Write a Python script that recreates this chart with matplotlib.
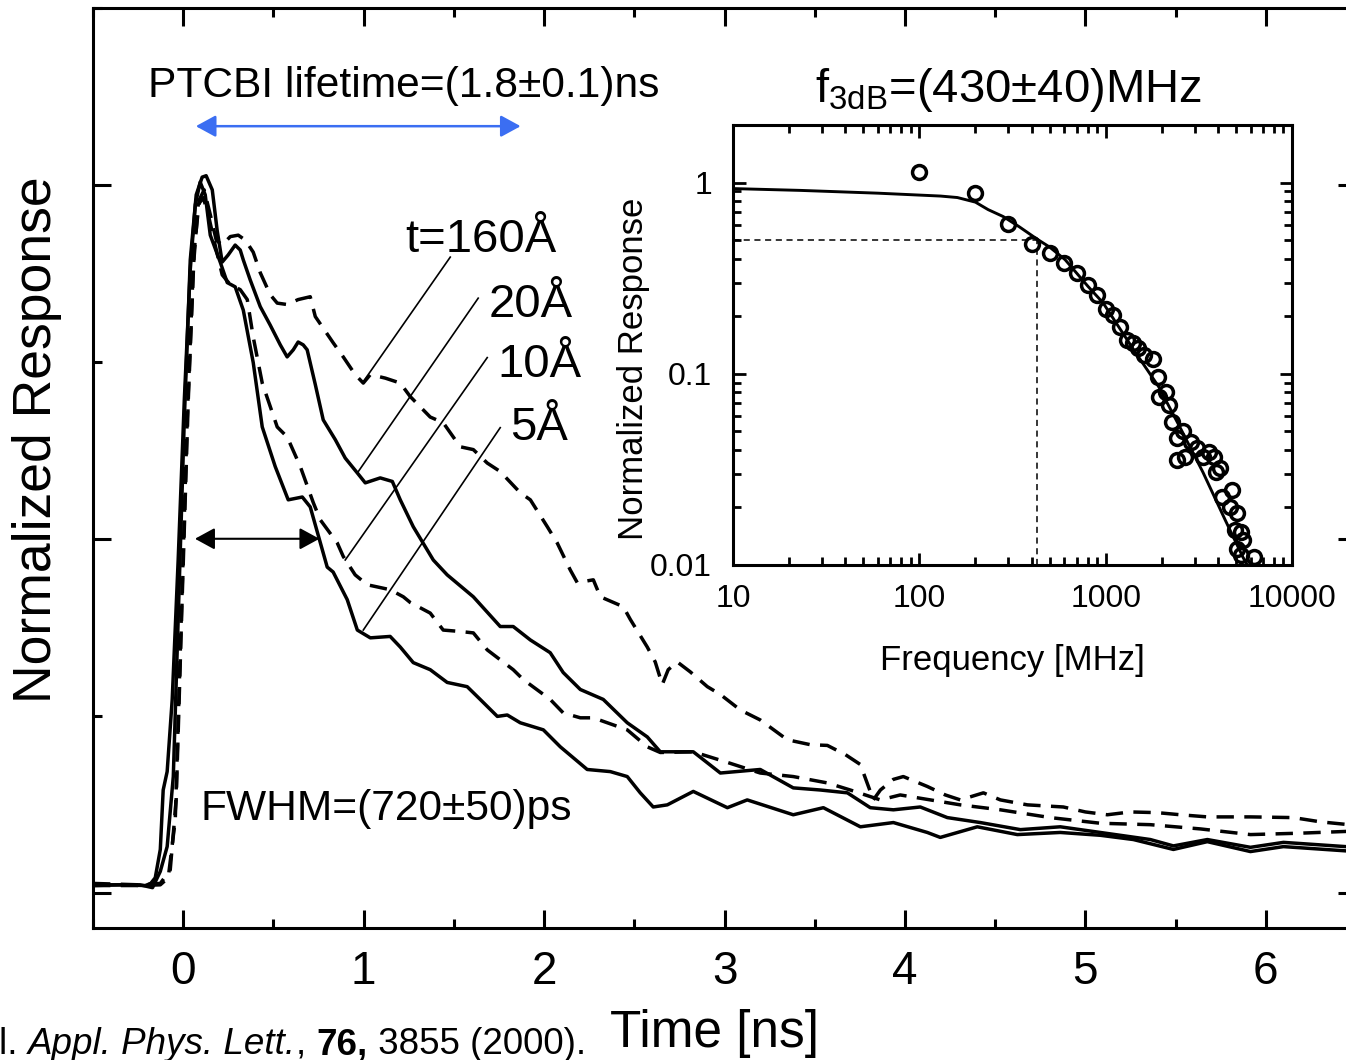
import numpy as np
import matplotlib
matplotlib.use("Agg")
import matplotlib.pyplot as plt
from matplotlib.ticker import MultipleLocator, LogLocator, NullFormatter, FixedLocator, FixedFormatter

plt.rcParams['font.family'] = ['Liberation Sans', 'DejaVu Sans']
plt.rcParams['mathtext.fontset'] = 'custom'
plt.rcParams['mathtext.rm'] = 'Liberation Sans'
plt.rcParams['mathtext.it'] = 'Liberation Sans:italic'
plt.rcParams['mathtext.bf'] = 'Liberation Sans:bold'

# ---- transient response (time in ns, response normalised) ----
t_5A = [-0.50, -0.35, -0.21, -0.18, -0.155, -0.127, -0.111, -0.089, -0.061, -0.028, 0.006, 0.039, 0.067,
        0.094, 0.122, 0.150, 0.205, 0.244, 0.288, 0.333, 0.388, 0.438, 0.510, 0.582, 0.660, 0.704, 0.798,
        0.831, 0.909, 0.965, 1.037, 1.147, 1.203, 1.275, 1.369, 1.463, 1.574, 1.646, 1.741, 1.796, 1.868,
        1.996, 2.090, 2.239, 2.367, 2.461, 2.533, 2.605, 2.683, 2.827, 3.016, 3.126, 3.381, 3.548, 3.753,
        3.936, 4.124, 4.196, 4.401, 4.623, 4.861, 5.083, 5.266, 5.488, 5.676, 5.915, 6.098, 6.50]
r_5A = [0.010, 0.011, 0.010, 0.013, 0.021, 0.061, 0.145, 0.171, 0.273, 0.470, 0.696, 0.880, 0.972,
        1.004, 0.986, 0.929, 0.891, 0.862, 0.856, 0.823, 0.749, 0.658, 0.602, 0.555, 0.559, 0.545, 0.460,
        0.453, 0.414, 0.371, 0.360, 0.362, 0.347, 0.325, 0.315, 0.297, 0.291, 0.273, 0.249, 0.251, 0.240,
        0.230, 0.206, 0.174, 0.171, 0.164, 0.141, 0.121, 0.124, 0.143, 0.120, 0.131, 0.110, 0.120, 0.093,
        0.099, 0.085, 0.078, 0.093, 0.082, 0.085, 0.081, 0.075, 0.061, 0.072, 0.058, 0.065, 0.058]

t_20A = [-0.50, -0.24, -0.17, -0.127, -0.089, -0.055, -0.028, 0.006, 0.039, 0.072, 0.105, 0.127, 0.161,
         0.188, 0.216, 0.249, 0.288, 0.316, 0.333, 0.371, 0.427, 0.482, 0.538, 0.576, 0.610, 0.637, 0.665,
         0.687, 0.732, 0.776, 0.843, 0.898, 0.965, 1.009, 1.092, 1.159, 1.203, 1.275, 1.386, 1.463, 1.608,
         1.757, 1.829, 1.924, 2.034, 2.106, 2.201, 2.328, 2.461, 2.572, 2.644, 2.827, 2.977, 3.198, 3.381,
         3.531, 3.681, 3.808, 3.936, 4.085, 4.235, 4.418, 4.640, 4.861, 5.083, 5.360, 5.488, 5.676, 5.915,
         6.098, 6.50]
r_20A = [0.011, 0.011, 0.007, 0.030, 0.065, 0.164, 0.386, 0.668, 0.894, 0.986, 1.011, 1.013, 0.993,
         0.936, 0.891, 0.901, 0.915, 0.908, 0.894, 0.866, 0.828, 0.802, 0.774, 0.757, 0.767, 0.778, 0.774,
         0.767, 0.718, 0.668, 0.640, 0.614, 0.593, 0.579, 0.586, 0.581, 0.555, 0.517, 0.470, 0.449, 0.418,
         0.376, 0.376, 0.357, 0.339, 0.311, 0.287, 0.273, 0.240, 0.220, 0.199, 0.199, 0.169, 0.174, 0.148,
         0.145, 0.141, 0.120, 0.117, 0.121, 0.106, 0.099, 0.089, 0.093, 0.085, 0.075, 0.066, 0.075, 0.064,
         0.071, 0.064]

t_10A = [-0.50, -0.24, -0.127, -0.083, -0.044, -0.011, 0.022, 0.055, 0.083, 0.111, 0.139, 0.177, 0.216,
         0.261, 0.316, 0.355, 0.388, 0.438, 0.521, 0.576, 0.649, 0.721, 0.759, 0.854, 0.887, 0.953, 1.020,
         1.075, 1.147, 1.220, 1.258, 1.369, 1.441, 1.535, 1.608, 1.685, 1.757, 1.829, 1.885, 2.034, 2.106,
         2.201, 2.273, 2.461, 2.572, 2.644, 2.827, 3.016, 3.198, 3.381, 3.570, 3.697, 3.864, 3.974, 4.141,
         4.307, 4.529, 4.806, 5.083, 5.360, 5.638, 5.915, 6.192, 6.50]
r_10A = [0.010, 0.010, 0.011, 0.021, 0.103, 0.386, 0.668, 0.880, 0.972, 0.982, 0.958, 0.915, 0.873,
         0.859, 0.852, 0.838, 0.785, 0.720, 0.658, 0.644, 0.602, 0.551, 0.527, 0.494, 0.475, 0.449, 0.435,
         0.432, 0.428, 0.418, 0.410, 0.395, 0.371, 0.369, 0.367, 0.343, 0.329, 0.315, 0.301, 0.273, 0.254,
         0.247, 0.247, 0.230, 0.206, 0.198, 0.199, 0.184, 0.169, 0.164, 0.155, 0.145, 0.131, 0.138, 0.131,
         0.124, 0.117, 0.106, 0.098, 0.096, 0.090, 0.082, 0.084, 0.087]

t_160A = [-0.50, -0.24, -0.127, -0.072, -0.039, -0.006, 0.028, 0.061, 0.089, 0.116, 0.150, 0.183, 0.216,
          0.261, 0.305, 0.344, 0.388, 0.427, 0.482, 0.521, 0.576, 0.637, 0.704, 0.732, 0.831, 0.887, 0.953,
          0.998, 1.037, 1.120, 1.203, 1.258, 1.369, 1.441, 1.535, 1.608, 1.685, 1.757, 1.868, 1.924, 2.018,
          2.073, 2.145, 2.184, 2.273, 2.312, 2.439, 2.478, 2.572, 2.616, 2.655, 2.688, 2.738, 2.810, 2.905,
          2.977, 3.088, 3.198, 3.348, 3.476, 3.570, 3.670, 3.753, 3.825, 3.864, 3.936, 3.991, 4.124, 4.224,
          4.307, 4.435, 4.529, 4.679, 4.878, 5.000, 5.122, 5.249, 5.399, 5.527, 5.676, 5.915, 6.153, 6.303,
          6.50]
r_160A = [0.013, 0.011, 0.013, 0.032, 0.131, 0.414, 0.696, 0.908, 0.979, 0.993, 0.958, 0.922, 0.915,
          0.927, 0.929, 0.922, 0.905, 0.876, 0.845, 0.833, 0.831, 0.838, 0.842, 0.814, 0.777, 0.757, 0.732,
          0.720, 0.732, 0.727, 0.720, 0.701, 0.672, 0.664, 0.630, 0.626, 0.607, 0.595, 0.565, 0.555, 0.517,
          0.494, 0.456, 0.438, 0.442, 0.418, 0.404, 0.386, 0.347, 0.326, 0.294, 0.315, 0.326, 0.312, 0.291,
          0.280, 0.258, 0.244, 0.216, 0.209, 0.208, 0.195, 0.181, 0.131, 0.145, 0.160, 0.164, 0.150, 0.138,
          0.131, 0.141, 0.131, 0.124, 0.121, 0.114, 0.110, 0.114, 0.113, 0.110, 0.107, 0.107, 0.106, 0.100,
          0.095]

# ---- frequency response inset ----
f_meas = [100, 200, 300, 400, 500, 600, 700, 800, 900, 1000, 1100, 1200, 1300, 1400, 1500, 1600, 1800,
          1900, 1925, 2100, 2200, 2270, 2400, 2600, 2400, 2660, 2880, 3080, 3320, 3580, 3830, 3930, 4130,
          4230, 4740, 4630, 5060, 4960, 5300, 5440, 5060, 5300, 6290]
r_meas = [1.13, 0.887, 0.61, 0.48, 0.43, 0.381, 0.338, 0.292, 0.259, 0.219, 0.203, 0.176, 0.151, 0.145,
          0.137, 0.126, 0.119, 0.0965, 0.0757, 0.080, 0.069, 0.0561, 0.0463, 0.050, 0.0355, 0.0368, 0.0441,
          0.0411, 0.0368, 0.0389, 0.0368, 0.0305, 0.0322, 0.0227, 0.0248, 0.0202, 0.0188, 0.0153, 0.0149,
          0.0135, 0.0121, 0.0113, 0.0110]

f_fit = [10, 23, 60, 130, 160, 200, 234, 282, 343, 430, 500, 606, 805, 968, 1410, 1925, 2500, 3330, 4380,
         5450, 6000]
r_fit = [0.93, 0.91, 0.88, 0.85, 0.835, 0.79, 0.722, 0.664, 0.588, 0.505, 0.46, 0.395, 0.286, 0.235,
         0.134, 0.0856, 0.0527, 0.0305, 0.0172, 0.011, 0.0093]

f3dB = 430
lifetime = 1.8
fwhm = 0.72

W, H = 1346, 1060
fig = plt.figure(figsize=(W / 100, H / 100), dpi=100)

# main axes (right spine sits just past the picture edge)
ax = fig.add_axes([93 / W, (H - 928) / H, (1356 - 93) / W, 920 / H])
ax.set_xlim(-0.5, 6.5)
ax.set_ylim(-0.05, 1.25)

lw = 2.5
ax.plot(t_160A, r_160A, color='black', lw=lw, dashes=(5, 3), zorder=3)
ax.plot(t_10A, r_10A, color='black', lw=lw, dashes=(5, 3), zorder=3)
ax.plot(t_20A, r_20A, color='black', lw=lw, zorder=3)
ax.plot(t_5A, r_5A, color='black', lw=lw, zorder=3)

for s in ax.spines.values():
    s.set_linewidth(2.2)
ax.xaxis.set_major_locator(MultipleLocator(1))
ax.xaxis.set_minor_locator(MultipleLocator(0.5))
ax.yaxis.set_major_locator(MultipleLocator(0.5))
ax.yaxis.set_minor_locator(MultipleLocator(0.25))
ax.tick_params(which='both', direction='in', top=True, right=True, width=2.2)
ax.tick_params(which='major', length=13)
ax.tick_params(which='minor', length=6.5)
ax.tick_params(axis='x', labelsize=33, pad=16)
ax.tick_params(axis='y', labelleft=False)

# labels for the curves
ax.text(1.231, 0.905, 't=160Å', fontsize=34)
ax.text(1.691, 0.814, '20Å', fontsize=34)
ax.text(1.741, 0.729, '10Å', fontsize=34)
ax.text(1.813, 0.640, '5Å', fontsize=34)
lab_lines = [((1.480, 0.898), (0.998, 0.722)),
             ((1.635, 0.840), (0.965, 0.593)),
             ((1.685, 0.756), (0.898, 0.470)),
             ((1.757, 0.657), (0.998, 0.371))]
for (x0, y0), (x1, y1) in lab_lines:
    ax.plot([x0, x1], [y0, y1], color='black', lw=1.2, zorder=4)

# lifetime and FWHM arrows
ax.text(-0.194, 1.124, 'PTCBI lifetime=(1.8±0.1)ns', fontsize=30.6)
ax.annotate('', xy=(0.07 + lifetime, 1.083), xytext=(0.07, 1.083),
            arrowprops=dict(arrowstyle='<|-|>,head_length=0.55,head_width=0.3', color='#3b6ef2',
                            lw=1.8, mutation_scale=22, shrinkA=0, shrinkB=0))
ax.annotate('', xy=(0.065 + fwhm - 0.03, 0.5), xytext=(0.065, 0.5),
            arrowprops=dict(arrowstyle='<|-|>,head_length=0.55,head_width=0.3', color='black',
                            lw=1.5, mutation_scale=22, shrinkA=0, shrinkB=0))
ax.text(0.094, 0.103, 'FWHM=(720±50)ps', fontsize=30.6)
ax.text(3.503, 1.117, r'f$_{\rm 3dB}$=(430±40)MHz', fontsize=34)

fig.text(37 / W, 1 - 440 / H, 'Normalized Response', rotation=90, ha='center', va='center', fontsize=38.5)
fig.text(714 / W, 1 - 1047 / H, 'Time [ns]', ha='center', va='baseline', fontsize=37)

# citation line: plain / italic / bold pieces laid out one after another, right edge at x=586 px
cite_parts = [('l. ', 'normal', 'normal'), ('Appl. Phys. Lett.', 'italic', 'normal'), (', ', 'normal', 'normal'),
              ('76,', 'normal', 'bold'), (' 3855 (2000).', 'normal', 'normal')]
fig.canvas.draw()
renderer = fig.canvas.get_renderer()
pieces = []
for txt, style, weight in cite_parts:
    tobj = fig.text(0, 1 - 1054 / H, txt.replace(' ', '\u00a0'), fontsize=26.5, style=style, weight=weight,
                    ha='left', va='baseline')
    pieces.append(tobj)
widths = [p.get_window_extent(renderer).width for p in pieces]
x = 586 - sum(widths)
for p, w in zip(pieces, widths):
    p.set_x(x / W)
    x += w

# inset
ins = fig.add_axes([733 / W, (H - 565) / H, (1292 - 733) / W, 440 / H], zorder=5)
ins.set_facecolor('white')
ins.set_xscale('log')
ins.set_yscale('log')
ins.set_xlim(10, 10000)
ins.set_ylim(0.01, 2.0)
ins.plot(f_fit, r_fit, color='black', lw=2.1, zorder=3)
ins.plot(f_meas, r_meas, 'o', mfc='none', mec='black', ms=10, mew=2.5, zorder=4)
ins.plot([10, f3dB], [0.5, 0.5], color='black', lw=1.1, dashes=(4, 3))
ins.plot([f3dB, f3dB], [0.01, 0.5], color='black', lw=1.1, dashes=(4, 3))

for s in ins.spines.values():
    s.set_linewidth(2.2)
ins.xaxis.set_major_locator(FixedLocator([10, 100, 1000, 10000]))
ins.xaxis.set_major_formatter(FixedFormatter(['10', '100', '1000', '10000']))
ins.xaxis.set_minor_locator(LogLocator(base=10, subs=np.arange(2, 10), numticks=20))
ins.xaxis.set_minor_formatter(NullFormatter())
ins.yaxis.set_major_locator(FixedLocator([0.01, 0.1, 1]))
ins.yaxis.set_major_formatter(FixedFormatter(['0.01', '0.1', '1']))
ins.yaxis.set_minor_locator(LogLocator(base=10, subs=np.arange(2, 10), numticks=20))
ins.yaxis.set_minor_formatter(NullFormatter())
ins.tick_params(which='both', direction='in', top=True, right=True, width=2.0)
ins.tick_params(which='major', length=9)
ins.tick_params(which='minor', length=5.5)
ins.tick_params(axis='x', labelsize=23, pad=14)
ins.tick_params(axis='y', labelsize=23, pad=15)

fig.text(1012 / W, 1 - 670 / H, 'Frequency [MHz]', ha='center', va='baseline', fontsize=25)
fig.text(633 / W, 1 - 369 / H, 'Normalized Response', rotation=90, ha='center', va='center', fontsize=25)

fig.savefig('out.png', dpi=100)
